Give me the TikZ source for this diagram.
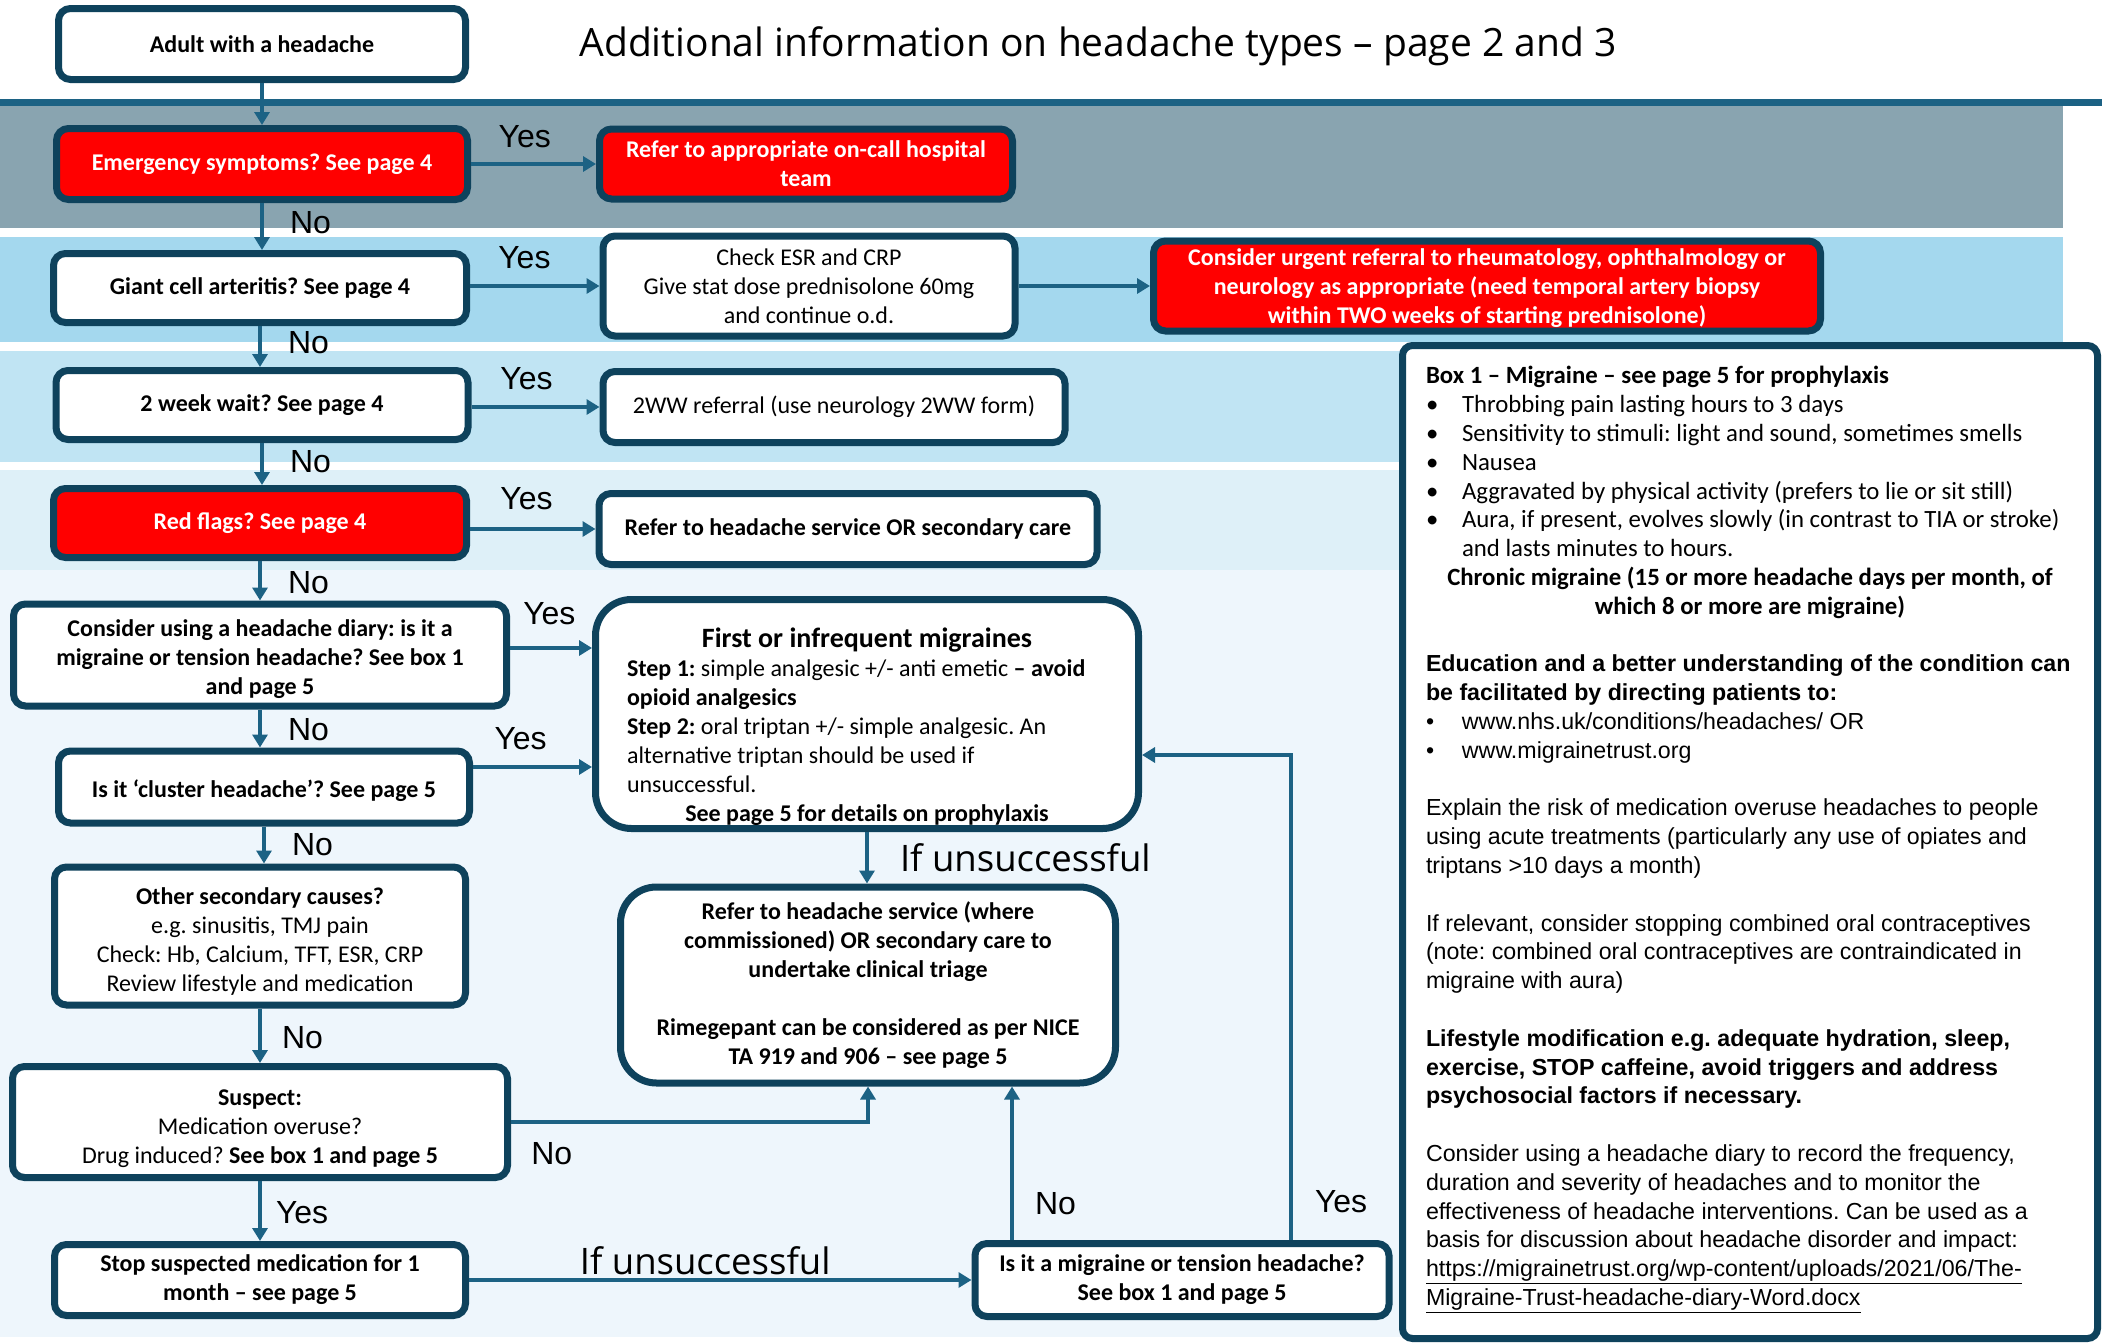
\documentclass[tikz,border=0pt]{standalone}
\usepackage{fontspec}
\setmainfont{Carlito}
\newfontfamily\arialfont{Liberation Sans}
\newfontfamily\aptosfont{Open Sans}
\usepackage{tikz}
\usetikzlibrary{shapes,arrows.meta,positioning}

\definecolor{boxline}{RGB}{14,66,92}
\definecolor{arrowblue}{RGB}{28,98,132}
\definecolor{alertred}{RGB}{255,0,0}
\definecolor{bandgrey}{RGB}{137,164,176}
\definecolor{bandblue}{RGB}{164,216,238}
\definecolor{bandmid}{RGB}{192,228,243}
\definecolor{bandlight}{RGB}{222,240,248}
\definecolor{bandpale}{RGB}{238,246,252}

\newcommand{\bul}{\makebox[36pt][l]{•}}
\newcommand{\infotext}{\arialfont\fontsize{23.2}{28.8}\selectfont}
\frenchspacing

\begin{document}
\frenchspacing
\begin{tikzpicture}[
    x=1pt, y=-1pt,
    box/.style={rectangle, draw=boxline, line width=7pt, fill=white, rounded corners=12pt, align=center, inner sep=2pt, font=\fontsize{24}{29}\selectfont\bfseries},
    plain/.style={font=\fontsize{24}{29}\selectfont},
    redbox/.style={box, fill=alertred, text=white},
    bigbox/.style={box, rounded corners=36pt},
    infobox/.style={rectangle, draw=boxline, line width=7pt, fill=white, rounded corners=10pt, align=left, inner sep=0pt, font=\fontsize{24.8}{28.8}\selectfont},
    arrow/.style={-{Triangle[length=13pt,width=15pt]}, draw=arrowblue, line width=4pt},
    yesno/.style={font=\arialfont\fontsize{32}{38}\selectfont, inner sep=0pt},
    note/.style={font=\aptosfont\fontsize{36.5}{42}\selectfont, inner sep=0pt}
]
\useasboundingbox (0,0) rectangle (2102,1344);

% Bands
\fill [bandgrey] (0,106) rectangle (2063,228);
\fill [bandblue] (0,237) rectangle (2063,342);
\fill [bandmid] (0,351) rectangle (1420,462);
\fill [bandlight] (0,470) rectangle (1420,570);
\fill [bandpale] (0,570) rectangle (1420,1337);
\draw [arrowblue, line width=7pt] (0,102.5) -- (2102,102.5);

% Heading
\node [note, font=\aptosfont\fontsize{39}{44}\selectfont, anchor=base] (heading) at (1098,56.7) {Additional information on headache types – page 2 and 3};

% Main column
\node [box, minimum width=407pt, minimum height=71pt] (adult) at (262,44) {Adult with a headache};
\node [redbox, minimum width=411pt, minimum height=71pt] (emerg) at (262,164) {Emergency symptoms? See page 4};
\node [box, minimum width=413pt, minimum height=69pt] (giant) at (260,288) {Giant cell arteritis? See page 4};
\node [box, minimum width=412pt, minimum height=69pt] (wait) at (262,405) {2 week wait? See page 4};
\node [redbox, minimum width=413pt, minimum height=69pt] (redflags) at (260,523) {Red flags? See page 4};
\node [box, minimum width=493pt, minimum height=102pt] (diary) at (260,655) {\rule{0pt}{26pt}Consider using a headache diary: is it a\\migraine or tension headache? See box 1\\and page 5};
\node [box, minimum width=411pt, minimum height=72pt] (cluster) at (264,787) {\rule{0pt}{26pt}Is it ‘cluster headache’? See page 5};
\node [box, plain, minimum width=411pt, minimum height=138pt] (other) at (260,936) {\rule{0pt}{28pt}\textbf{Other secondary causes?}\\e.g. sinusitis, TMJ pain\\Check: Hb, Calcium, TFT, ESR, CRP\\Review lifestyle and medication};
\node [box, plain, minimum width=495pt, minimum height=111pt] (suspect) at (260,1122) {\rule{0pt}{30pt}\textbf{Suspect:}\\Medication overuse?\\Drug induced? \textbf{See box 1 and page 5}};
\node [box, minimum width=411pt, minimum height=71pt] (stop) at (260,1280) {Stop suspected medication for 1\\month – see page 5};

% Outcomes
\node [redbox, minimum width=413pt, minimum height=70pt] (oncall) at (806,164) {Refer to appropriate on-call hospital\\team};
\node [box, plain, minimum width=412pt, minimum height=100pt] (checkesr) at (809,286) {Check ESR and CRP\\Give stat dose prednisolone 60mg\\and continue o.d.};
\node [redbox, minimum width=667pt, minimum height=90pt] (urgent) at (1487,286) {\rule{0pt}{22pt}Consider urgent referral to rheumatology, ophthalmology or\\neurology as appropriate (need temporal artery biopsy\\within TWO weeks of starting prednisolone)};
\node [box, plain, minimum width=462pt, minimum height=71pt] (twoww) at (834,407) {2WW referral (use neurology 2WW form)};
\node [box, minimum width=498pt, minimum height=71pt] (refersec) at (848,529) {Refer to headache service OR secondary care};
\node [bigbox, plain, minimum width=543pt, minimum height=229pt] (first) at (867,714) {\rule{0pt}{46pt}{\fontsize{28}{29}\selectfont\textbf{First or infrequent migraines}}\\
    \makebox[480pt][l]{\textbf{Step 1:} simple analgesic +/- anti emetic \textbf{– avoid}}\\
    \makebox[480pt][l]{\textbf{opioid analgesics}}\\
    \makebox[480pt][l]{\textbf{Step 2:} oral triptan +/- simple analgesic. An}\\
    \makebox[480pt][l]{alternative triptan should be used if}\\
    \makebox[480pt][l]{unsuccessful.}\\
    \textbf{See page 5 for details on prophylaxis}};
\node [bigbox, minimum width=495pt, minimum height=196pt] (referhs) at (868,985) {Refer to headache service (where\\commissioned) OR secondary care to\\undertake clinical triage\\[29pt]Rimegepant can be considered as per NICE\\TA 919 and 906 – see page 5};
\node [box, minimum width=414pt, minimum height=73pt] (mortens) at (1182,1280) {Is it a migraine or tension headache?\\See box 1 and page 5};

% Box 1
\node [infobox, minimum width=695pt, minimum height=993pt] (box1) at (1750,842) {%
    \textbf{Box 1 – Migraine – see page 5 for prophylaxis}\\
    \bul Throbbing pain lasting hours to 3 days\\
    \bul Sensitivity to stimuli: light and sound, sometimes smells\\
    \bul Nausea\\
    \bul Aggravated by physical activity (prefers to lie or sit still)\\
    \bul Aura, if present, evolves slowly (in contrast to TIA or stroke)\\
    \hspace*{36pt}and lasts minutes to hours.\\
    \makebox[648pt][c]{\textbf{Chronic migraine (15 or more headache days per month, of}}\\
    \makebox[648pt][c]{\textbf{which 8 or more are migraine)}}\\[28.8pt]
    {\infotext\textbf{Education and a better understanding of the condition can}}\\
    {\infotext\textbf{be facilitated by directing patients to:}}\\
    {\infotext\bul www.nhs.uk/conditions/headaches/ OR}\\
    {\infotext\bul www.migrainetrust.org}\\[28.8pt]
    {\infotext Explain the risk of medication overuse headaches to people}\\
    {\infotext using acute treatments (particularly any use of opiates and}\\
    {\infotext triptans >10 days a month)}\\[28.8pt]
    {\infotext If relevant, consider stopping combined oral contraceptives}\\
    {\infotext (note: combined oral contraceptives are contraindicated in}\\
    {\infotext migraine with aura)}\\[28.8pt]
    {\infotext\textbf{Lifestyle modification e.g. adequate hydration, sleep,}}\\
    {\infotext\textbf{exercise, STOP caffeine, avoid triggers and address}}\\
    {\infotext\textbf{psychosocial factors if necessary.}}\\[28.8pt]
    {\infotext Consider using a headache diary to record the frequency,}\\
    {\infotext duration and severity of headaches and to monitor the}\\
    {\infotext effectiveness of headache interventions. Can be used as a}\\
    {\infotext basis for discussion about headache disorder and impact:}\\
    {\infotext\underline{https://migrainetrust.org/wp-content/uploads/2021/06/The-}}\\
    {\infotext\underline{Migraine-Trust-headache-diary-Word.docx}\rule[-12pt]{0pt}{1pt}}};

% Arrows
\draw [arrow] (adult) -- (adult |- emerg.north);
\draw [arrow] (emerg) -- node [yesno, pos=.43, above=14pt] {Yes} (oncall);
\draw [arrow] (emerg) -- node [yesno, pos=.41, right=26pt] {No} (emerg |- giant.north);
\draw [arrow] (giant.east |- checkesr) -- node [yesno, pos=.42, above=15pt] {Yes} (checkesr);
\draw [arrow] (checkesr) -- (urgent);
\draw [arrow] (giant) -- node [yesno, pos=.4, right=26pt] {No} (giant |- wait.north);
\draw [arrow] (wait.east |- twoww) -- node [yesno, pos=.43, above=15pt] {Yes} (twoww);
\draw [arrow] (wait) -- node [yesno, pos=.44, right=26pt] {No} (wait |- redflags.north);
\draw [arrow] (redflags.east |- refersec) -- node [yesno, pos=.45, above=17pt] {Yes} (refersec);
\draw [arrow] (redflags) -- node [yesno, pos=.55, right=26pt] {No} (redflags |- diary.north);
\draw [arrow] ([yshift=7pt]diary.east) -- node [yesno, pos=.48, above=21pt] {Yes} ([yshift=7pt]diary.east -| first.west);
\draw [arrow] (diary) -- node [yesno, pos=.54, right=26pt] {No} (diary |- cluster.north);
\draw [arrow] ([yshift=20pt]cluster.east) -- node [yesno, pos=.4, above=15pt] {Yes} ([yshift=20pt]cluster.east -| first.west);
\draw [arrow] (cluster) -- node [yesno, pos=.49, right=26pt] {No} (cluster |- other.north);
\draw [arrow] (first) -- node [note, pos=.5, right=31pt] {If unsuccessful} (first |- referhs.north);
\draw [arrow] (other) -- node [yesno, pos=.53, right=20pt] {No} (other |- suspect.north);
\draw [arrow] (suspect) -| node [yesno, pos=.057, below=18pt] {No} (referhs);
\draw [arrow] (suspect) -- node [yesno, pos=.53, right=14pt] {Yes} (suspect |- stop.north);
\draw [arrow] (stop) -- node [note, pos=.47, above=3pt] {If unsuccessful} (mortens);
\draw [arrow] ([xshift=-170pt]mortens.north) -- node [yesno, pos=.24, right=21pt] {No} ([xshift=-170pt]mortens.north |- referhs.south);
\draw [arrow] ([xshift=109pt]mortens.north) |- node [yesno, pos=.04, right=22pt] {Yes} ([yshift=-41pt]first.east);

\end{tikzpicture}
\end{document}
